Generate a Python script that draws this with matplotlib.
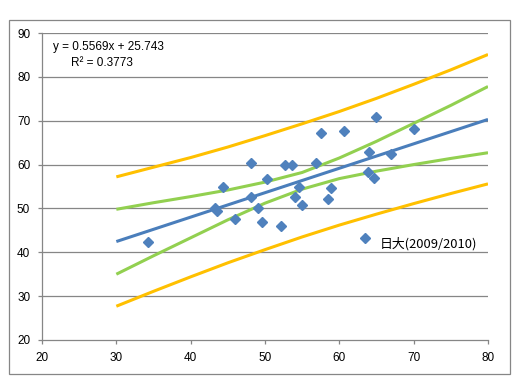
import matplotlib
matplotlib.use("Agg")
import matplotlib.pyplot as plt
from matplotlib.patches import Rectangle
import numpy as np

# ---- data ----
points_x = [34.3, 43.3, 43.5, 44.3, 46.0, 48.1, 48.1, 49.1, 49.6, 50.3, 52.2, 52.7,
            53.6, 54.1, 54.6, 55.0, 56.9, 57.5, 58.5, 58.9, 60.6, 63.4, 63.8, 64.6,
            64.0, 64.9, 66.9, 70.1]
points_y = [42.3, 50.0, 49.5, 54.8, 47.6, 60.3, 52.5, 50.0, 47.0, 56.7, 45.9, 59.9,
            60.0, 52.5, 54.8, 50.7, 60.3, 67.3, 52.1, 54.6, 67.7, 43.3, 58.2, 57.0,
            62.8, 70.8, 62.4, 68.2]

slope = 0.5569
intercept = 25.743
r_squared = 0.3773
fit_x = [30, 80]

band_x = [30, 35, 40, 45, 50, 55, 60, 65, 70, 75, 80]
conf_upper = [49.8, 51.3, 52.7, 54.2, 56.0, 58.2, 61.5, 65.3, 69.4, 73.5, 77.8]
conf_lower = [35.0, 39.2, 43.3, 47.4, 51.2, 54.4, 56.8, 58.5, 60.0, 61.4, 62.7]
pred_upper = [57.2, 59.4, 61.6, 64.0, 66.6, 69.3, 72.1, 75.1, 78.3, 81.6, 85.1]
pred_lower = [27.7, 31.1, 34.4, 37.6, 40.6, 43.5, 46.2, 48.7, 51.1, 53.4, 55.6]

x_ticks = [20, 30, 40, 50, 60, 70, 80]
y_ticks = [20, 30, 40, 50, 60, 70, 80, 90]
label_text = "日大(2009/2010)"

# ---- figure ----
W, H = 521, 379
fig = plt.figure(figsize=(W / 100, H / 100), dpi=100)
fig.patch.set_facecolor("white")

def fx(px):
    return px / W

def fy(py):
    return 1 - py / H

ax = fig.add_axes([fx(42), fy(340), fx(488) - fx(42), fy(33) - fy(340)])
gray = "#868686"

# outer chart border
fig.patches.append(Rectangle((fx(8.5), fy(373.5)), fx(510) - fx(8.5), fy(19.5) - fy(373.5),
                             transform=fig.transFigure, fill=False, edgecolor=gray,
                             linewidth=0.9, zorder=0))

ax.set_xlim(20, 80)
ax.set_ylim(20, 90)
ax.set_xticks(x_ticks)
ax.set_yticks(y_ticks)
for y in y_ticks[1:]:
    ax.axhline(y, color=gray, linewidth=0.9, zorder=1)

for s in ["top", "right"]:
    ax.spines[s].set_visible(False)
for s in ["left", "bottom"]:
    ax.spines[s].set_color(gray)
    ax.spines[s].set_linewidth(0.9)
ax.tick_params(direction="out", length=3, width=0.9, color=gray, pad=5.5,
               labelsize=8.5, labelcolor="black")
for lab in ax.get_xticklabels() + ax.get_yticklabels():
    lab.set_fontfamily("Liberation Sans")

lw = 2.2
ax.plot(band_x, pred_upper, color="#FFC000", linewidth=lw, zorder=3, solid_capstyle="butt")
ax.plot(band_x, pred_lower, color="#FFC000", linewidth=lw, zorder=3, solid_capstyle="butt")
ax.plot(band_x, conf_upper, color="#92D050", linewidth=lw, zorder=3, solid_capstyle="butt")
ax.plot(band_x, conf_lower, color="#92D050", linewidth=lw, zorder=3, solid_capstyle="butt")
fx_arr = np.array(fit_x, dtype=float)
ax.plot(fx_arr, slope * fx_arr + intercept, color="#4A7EBB", linewidth=lw, zorder=4,
        solid_capstyle="butt")

ax.plot(points_x, points_y, linestyle="none", marker="D", markersize=4.6,
        color="#4F81BD", markeredgecolor="#4F81BD", zorder=5)

# equation text
fig.text(fx(108), fy(46.7), f"y = {slope}x + {intercept}", ha="center", va="center",
         fontsize=8.5, family="Liberation Sans", color="black")
fig.text(fx(101.7), fy(62.7), f"R² = {r_squared}", ha="center", va="center",
         fontsize=8.5, family="Liberation Sans", color="black")

fig.text(fx(380), fy(243.5), label_text, ha="left", va="center", fontsize=9.3,
         family=["Noto Sans CJK JP", "DejaVu Sans"], color="black")

fig.savefig("out.png", dpi=100)
